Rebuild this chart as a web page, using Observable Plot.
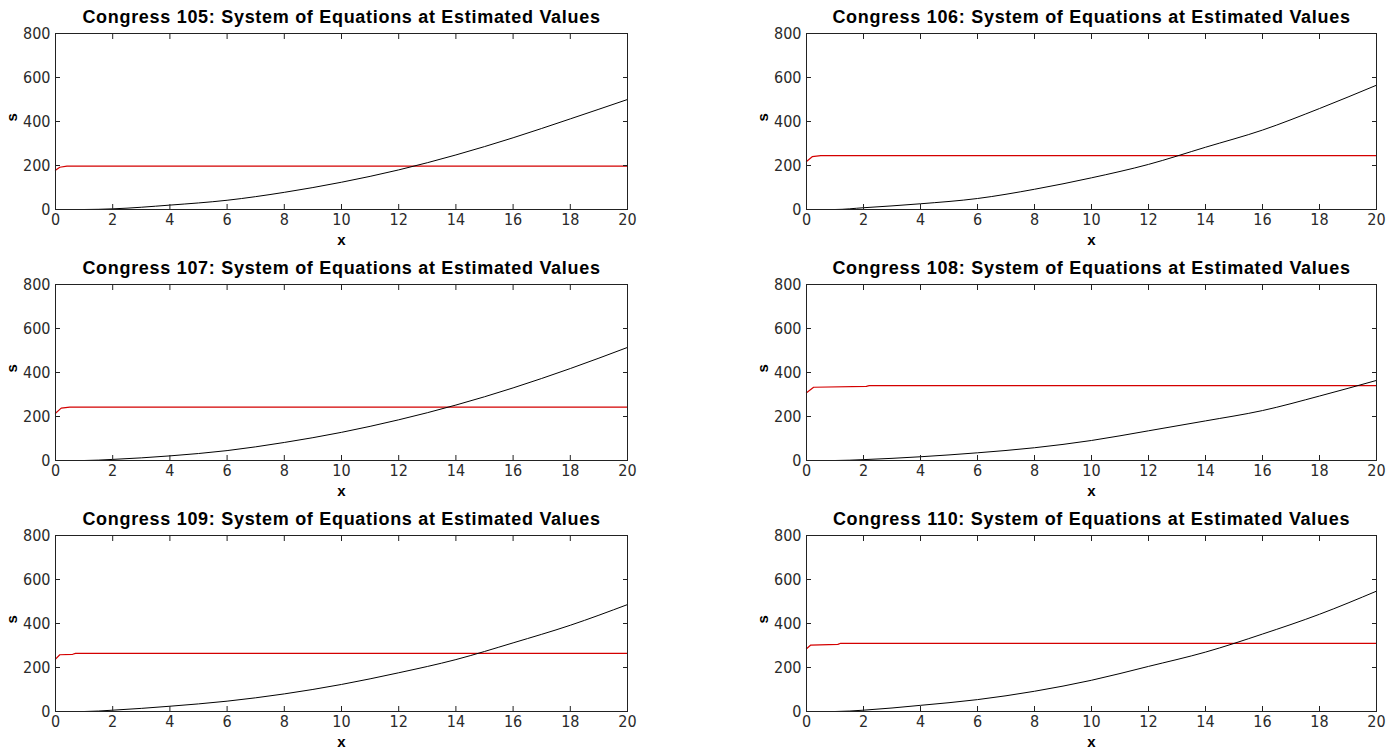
<!DOCTYPE html>
<html>
<head>
<meta charset="utf-8">
<script src="https://cdn.jsdelivr.net/npm/d3@7"></script>
<script src="https://cdn.jsdelivr.net/npm/@observablehq/plot@0.6"></script>
<style>
  html, body { margin: 0; padding: 0; background: #fff; }
  #grid { position: relative; width: 1400px; height: 750px; overflow: hidden; }
  #grid svg { position: absolute; background: #fff; }
</style>
</head>
<body>
<div id="grid"></div>
<script>
// Axis ticks shared by every panel
const xTicks = [0, 2, 4, 6, 8, 10, 12, 14, 16, 18, 20];
const yTicks = [0, 200, 400, 600, 800];

// Congress sessions, one subplot each
const congresses = [105, 106, 107, 108, 109, 110];

// s(x) curve sampled on a common x grid
const curveX = [0, 1, 2, 4, 6, 8, 10, 12, 14, 16, 18, 20];
const curve105 = [0, 0, 3, 20, 42, 78, 124, 180, 248, 326, 412, 500];
const curve106 = [0, 0, 8, 26, 50, 92, 144, 205, 283, 361, 459, 565];
const curve107 = [0, 0, 5, 21, 45, 82, 128, 185, 252, 330, 418, 514];
const curve108 = [0, 0, 4, 17, 35, 58, 91, 135, 180, 227, 293, 364];
const curve109 = [0, 0, 6, 24, 47, 80, 123, 176, 236, 312, 392, 486];
const curve110 = [0, 0, 6, 28, 54, 92, 142, 205, 270, 352, 442, 547];

// Equilibrium line: quick rise near x = 0, then flat
const levelX105 = [0, 0.15, 0.4, 20];
const level105 = [178, 192, 197, 197];
const levelX106 = [0, 0.2, 0.5, 20];
const level106 = [218, 240, 245, 245];
const levelX107 = [0, 0.2, 0.5, 20];
const level107 = [215, 238, 243, 243];
const levelX108 = [0, 0.25, 2.1, 2.2, 20];
const level108 = [308, 333, 337, 340, 340];
const levelX109 = [0, 0.15, 0.6, 0.7, 20];
const level109 = [238, 258, 260, 264, 264];
const levelX110 = [0, 0.15, 1.1, 1.2, 20];
const level110 = [285, 302, 305, 310, 310];

const curves = [curve105, curve106, curve107, curve108, curve109, curve110];
const levelXs = [levelX105, levelX106, levelX107, levelX108, levelX109, levelX110];
const levels = [level105, level106, level107, level108, level109, level110];

const grid = document.getElementById("grid");
const font = "'Liberation Sans', Arial, Helvetica, sans-serif";
const tickFont = "'Liberation Sans Narrow', 'Arial Narrow', 'DejaVu Sans Condensed', sans-serif";

congresses.forEach((c, i) => {
  const col = i % 2, row = Math.floor(i / 2);
  const curve = curveX.map((x, j) => ({x, s: curves[i][j]}));
  const level = levelXs[i].map((x, j) => ({x, s: levels[i][j]}));
  const title = `Congress ${c}: System of Equations at Estimated Values`;

  const svg = Plot.plot({
    width: 700,
    height: 251,
    marginLeft: col === 0 ? 55 : 106,
    marginRight: col === 0 ? 73 : 24,
    marginTop: 33,
    marginBottom: 42,
    style: {fontFamily: font, fontSize: "13px", color: "#111", background: "#fff"},
    x: {domain: [0, 20], axis: null},
    y: {domain: [0, 800], axis: null},
    marks: [
      Plot.line(level, {x: "x", y: "s", stroke: "#d40000", strokeWidth: 1.2}),
      Plot.line(curve, {x: "x", y: "s", stroke: "#000", strokeWidth: 1, curve: "monotone-x"}),
      Plot.frame({stroke: "#222", strokeWidth: 1}),
      Plot.axisX(xTicks, {anchor: "bottom", tickSize: -5, tickPadding: 9, fontSize: 16, fontFamily: tickFont, fill: "#2a2a2a", label: null, stroke: "#222"}),
      Plot.axisX(xTicks, {anchor: "top", tickSize: -5, tickFormat: () => "", label: null, stroke: "#222"}),
      Plot.axisY(yTicks, {anchor: "left", tickSize: -5, tickPadding: 10, fontSize: 16, fontFamily: tickFont, fill: "#2a2a2a", label: null, stroke: "#222"}),
      Plot.axisY(yTicks, {anchor: "right", tickSize: -5, tickFormat: () => "", label: null, stroke: "#222"}),
      Plot.text([title], {
        text: d => d, frameAnchor: "top", dy: -23, fontSize: 18, fontWeight: "bold", fill: "#000"
      }),
      Plot.text(["x"], {
        text: d => d, frameAnchor: "bottom", dy: 35, fontSize: 15, fontWeight: "bold", fill: "#000"
      }),
      Plot.text(["s"], {
        text: d => d, frameAnchor: "left", dx: -43, rotate: -90, fontSize: 15, fontWeight: "bold", fill: "#000"
      })
    ]
  });
  // widen the panel title a little
  d3.select(svg).selectAll("text")
    .filter(function () { return this.textContent === title; })
    .style("letter-spacing", "0.7px");
  svg.style.left = `${col * 700}px`;
  svg.style.top = `${row * 251}px`;
  grid.appendChild(svg);
});
</script>
</body>
</html>
